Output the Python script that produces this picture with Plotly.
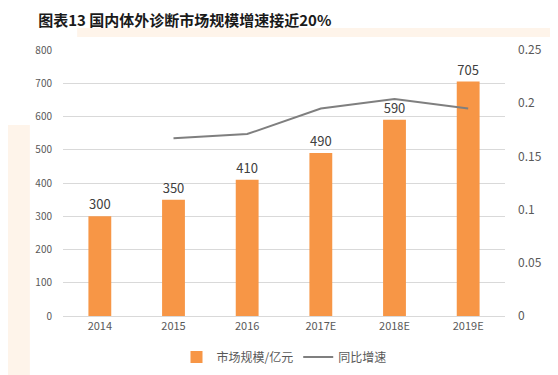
import plotly.graph_objects as go

categories = ["2014", "2015", "2016", "2017E", "2018E", "2019E"]
market_size = [300, 350, 410, 490, 590, 705]
growth_x = ["2015", "2016", "2017E", "2018E", "2019E"]
growth = [0.167, 0.171, 0.195, 0.204, 0.195]
left_ticks = [0, 100, 200, 300, 400, 500, 600, 700, 800]
right_ticks = [0, 0.05, 0.1, 0.15, 0.2, 0.25]
right_tick_text = ["0", "0.05", "0.1", "0.15", "0.2", "0.25"]

font_family = "Noto Sans CJK SC, Noto Sans, sans-serif"

fig = go.Figure()
fig.add_trace(go.Bar(
    x=categories, y=market_size, name="市场规模/亿元",
    marker=dict(color="#F79646", line=dict(width=0)),
    width=0.31,
    text=[str(v) for v in market_size], textposition="outside",
    textfont=dict(size=13, color="#404040"), cliponaxis=False,
))
fig.add_trace(go.Scatter(
    x=growth_x, y=growth, name="同比增速", yaxis="y2",
    mode="lines", line=dict(color="#7F7F7F", width=2),
))

shapes = [
    dict(type="rect", xref="paper", yref="paper", x0=0.032, x1=1.15, y0=1.049, y1=1.083,
         fillcolor="#FEF4EA", line=dict(width=0), layer="below"),
    dict(type="rect", xref="paper", yref="paper", x0=-0.135, x1=-0.075, y0=-0.3, y1=0.718,
         fillcolor="#FEF4EA", line=dict(width=0), layer="below"),
]

fig.update_layout(
    width=558, height=375,
    margin=dict(l=55, r=61, t=42, b=67, autoexpand=False),
    paper_bgcolor="white", plot_bgcolor="white",
    font=dict(family=font_family, size=11, color="#595959"),
    title=dict(text="<b>图表13 国内体外诊断市场规模增速接近20%</b>",
               x=0.054, xanchor="left", y=0.966, yanchor="middle",
               font=dict(size=15, color="#1a1a1a", family=font_family)),
    xaxis=dict(showgrid=False, showline=True, linecolor="#D9D9D9", linewidth=1,
               ticks="", tickfont=dict(size=11, color="#595959")),
    yaxis=dict(range=[0, 800], tickvals=left_ticks, showgrid=True, gridcolor="#D9D9D9",
               gridwidth=1, zeroline=False, showline=False, ticks="",
               tickfont=dict(size=10, color="#595959"), ticklabelstandoff=10),
    yaxis2=dict(range=[0, 0.25], tickvals=right_ticks, ticktext=right_tick_text,
                overlaying="y", side="right", showgrid=False, zeroline=False,
                showline=False, ticks="", tickfont=dict(size=12, color="#595959"),
                ticklabelstandoff=12),
    legend=dict(orientation="h", x=0.5, xanchor="center", y=-0.1, yanchor="top",
                font=dict(size=12, color="#595959"), traceorder="normal",
                itemwidth=30, tracegroupgap=0),
    bargap=0.5,
    shapes=shapes,
)

fig.write_html("out.html")
